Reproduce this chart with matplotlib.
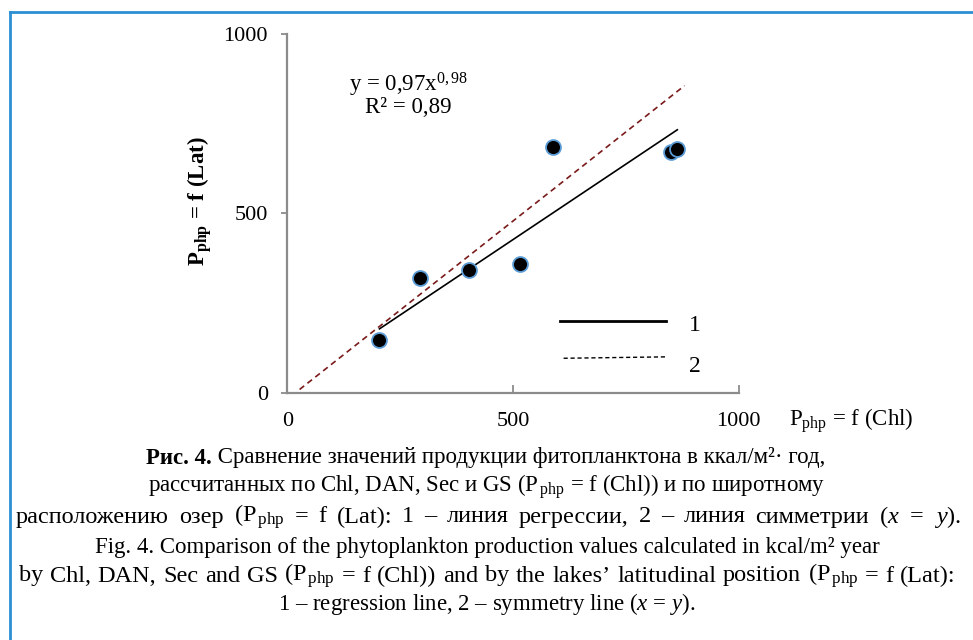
import matplotlib
matplotlib.use("Agg")
import matplotlib.pyplot as plt
from matplotlib.lines import Line2D

plt.rcParams['font.family'] = ['Liberation Serif', 'DejaVu Serif']
plt.rcParams['mathtext.fontset'] = 'custom'
plt.rcParams['mathtext.rm'] = 'Liberation Serif'
plt.rcParams['mathtext.it'] = 'Liberation Serif:italic'
plt.rcParams['mathtext.bf'] = 'Liberation Serif:bold'

# Data
chl_x = [204, 294, 403, 516, 589, 851, 864]
lat_y = [148, 321, 341, 358, 685, 671, 679]

# regression line y = 0.97 x^0.98 (end points as drawn)
reg_x = [204, 864]
reg_y = [178, 733]
# symmetry line x = y (as drawn)
sym_x = [27, 880]
sym_y = [9, 856]

ticks = [0, 500, 1000]
tick_labels = ['0', '500', '1000']

fig = plt.figure(figsize=(9.73, 6.40), dpi=100)
W, H = 973, 640

# blue frame (left and top)
fig.add_artist(Line2D([9.5 / W, 9.5 / W], [0, 1 - 12 / H], color='#2b8fd1', lw=2.0,
                      transform=fig.transFigure))
fig.add_artist(Line2D([9.5 / W, 1], [1 - 12 / H, 1 - 12 / H], color='#2b8fd1', lw=2.0,
                      transform=fig.transFigure))

ax = fig.add_axes([287.4 / W, 1 - 392.7 / H, (738.7 - 287.4) / W, (392.7 - 34.0) / H])
ax.set_xlim(0, 1000)
ax.set_ylim(0, 1000)
for s in ['top', 'right']:
    ax.spines[s].set_visible(False)
for s in ['left', 'bottom']:
    ax.spines[s].set_color('#8c8c8c')
    ax.spines[s].set_linewidth(1.6)

ax.set_xticks(ticks)
ax.set_xticklabels(tick_labels)
ax.set_yticks(ticks)
ax.set_yticklabels(tick_labels)
ax.tick_params(axis='x', direction='in', length=6, width=1.3, color='#8c8c8c',
               labelsize=16, pad=14)
ax.tick_params(axis='y', direction='out', length=4, width=1.3, color='#8c8c8c',
               labelsize=16, pad=10)

ax.plot(sym_x, sym_y, color='#7a1a1a', lw=1.2, dashes=(3.5, 2.5), zorder=2)
ax.plot(reg_x, reg_y, color='black', lw=1.2, zorder=2)
ax.scatter(chl_x, lat_y, s=115, color='black', edgecolors='#5b9bd5', linewidths=1.3,
           zorder=3)

# legend drawn as shapes
ax.plot([604, 838], [200, 200], color='black', lw=2.0, clip_on=False)
ax.plot([612, 842], [96, 100], color='black', lw=1.0, dashes=(3, 2), clip_on=False)
ax.text(890, 186, '1', fontsize=17, ha='left', va='center')
ax.text(890, 74, '2', fontsize=17, ha='left', va='center')

# equation
ax.text(269, 858, r'y = 0,97x$^{\mathrm{0,98}}$', fontsize=16.5, ha='center', va='center')
ax.text(269, 794, 'R² = 0,89', fontsize=16.5, ha='center', va='center')

# axis labels
fig.text(200 / W, 1 - 201 / H, r'$\mathbf{P_{php}}$ = f (Lat)', fontsize=16.5,
         fontweight='bold', rotation=90, ha='center', va='center')
fig.text(789 / W, 1 - 421 / H, r'P$_{\mathrm{php}}$ = f (Chl)', fontsize=16.5,
         ha='left', va='center')

# caption
cap_fs = 16.5
wide_fs = 17.5
sub = r'P$_{\,\mathrm{php}}$'
line1_bold = 'Рис. 4.'
line1_rest = ' Сравнение значений продукции фитопланктона в ккал/м²· год,'
line2 = 'рассчитанных по Chl, DAN, Sec и GS (' + sub + ' = f (Chl)) и по широтному'
line3 = 'расположению озер (' + sub + r' = f (Lat): 1 – линия регрессии, 2 – линия симметрии ($\it{x}$ = $\it{y}$).'
line4 = 'Fig. 4. Comparison of the phytoplankton production values calculated in kcal/m² year'
line5 = 'by Chl, DAN, Sec and GS (' + sub + " = f (Chl)) and by the lakes’ latitudinal position (" + sub + ' = f (Lat):'
line6 = r'1 – regression line, 2 – symmetry line ($\it{x}$ = $\it{y}$).'
ys = [458, 487, 517, 547, 576, 604]

fig.canvas.draw()
r = fig.canvas.get_renderer()


def justified(text, y, left, right, fs):
    words = text.split(' ')
    arts = [fig.text(0, 1 - y / H, w, fontsize=fs, ha='left', va='center') for w in words]
    widths = [a.get_window_extent(r).width for a in arts]
    gap = (right - left - sum(widths)) / (len(words) - 1)
    x = left
    for a, w in zip(arts, widths):
        a.set_x(x / W)
        x += w + gap


# first line: bold part + regular part, centered together
t_bold = fig.text(0, 1 - ys[0] / H, line1_bold, fontsize=cap_fs, fontweight='bold',
                  ha='left', va='center')
t_reg = fig.text(0, 1 - ys[0] / H, line1_rest, fontsize=cap_fs, ha='left', va='center')
wb = t_bold.get_window_extent(r).width
wr = t_reg.get_window_extent(r).width
x0 = 486 - (wb + wr) / 2
t_bold.set_x(x0 / W)
t_reg.set_x((x0 + wb) / W)

fig.text(487 / W, 1 - ys[1] / H, line2, fontsize=cap_fs, ha='center', va='center')
justified(line3, ys[2], 16, 961, wide_fs)
fig.text(487 / W, 1 - ys[3] / H, line4, fontsize=cap_fs, ha='center', va='center')
justified(line5, ys[4], 19, 956, wide_fs)
fig.text(487 / W, 1 - ys[5] / H, line6, fontsize=cap_fs, ha='center', va='center')

fig.savefig('out.png', dpi=100)
